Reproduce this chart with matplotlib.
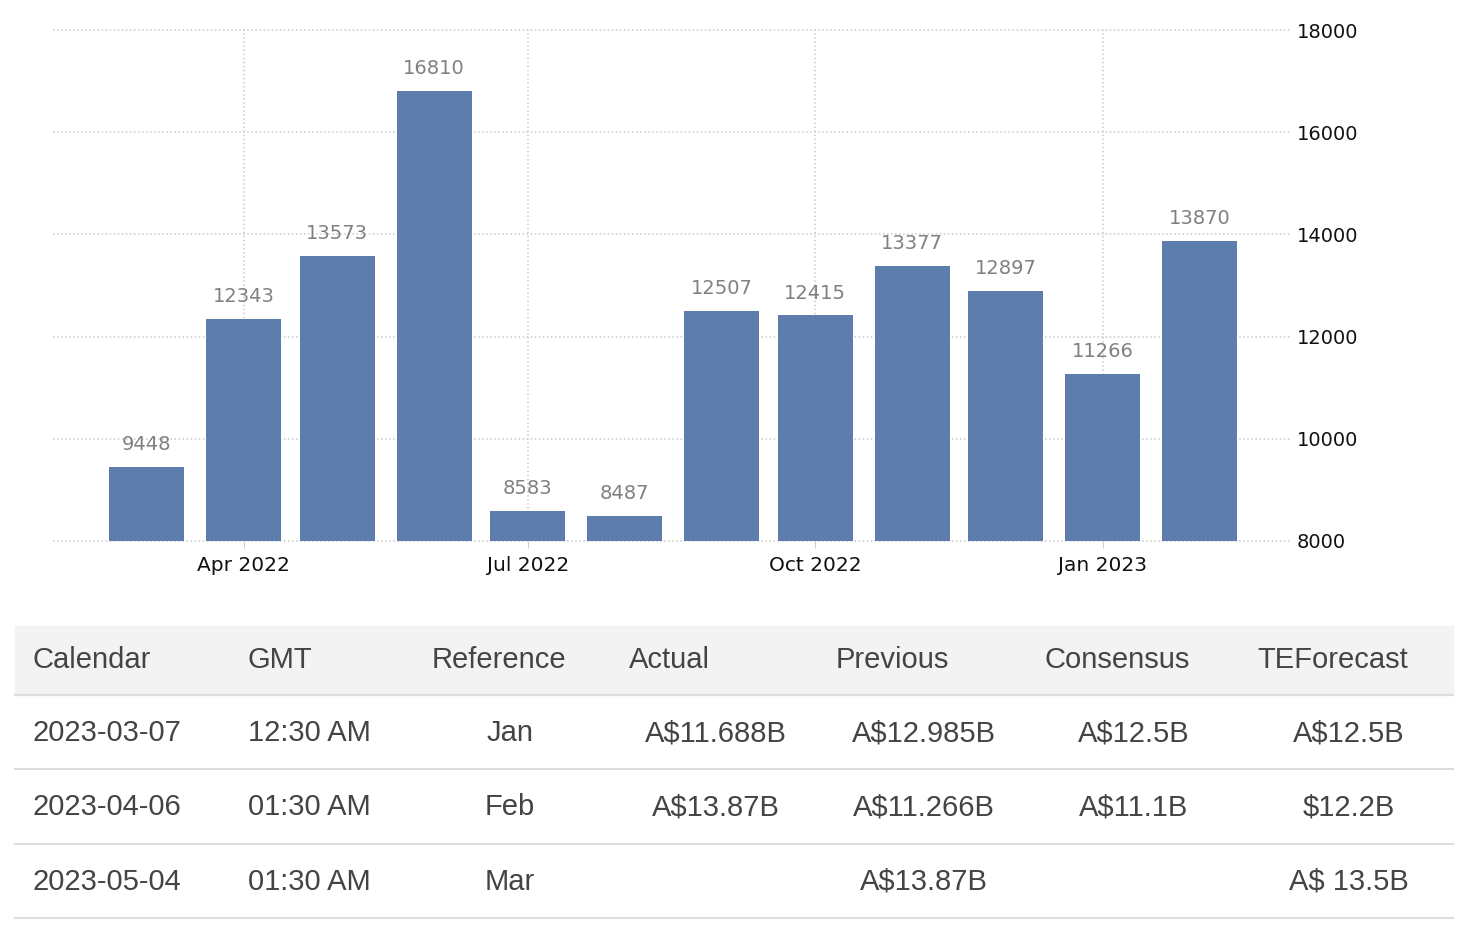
import pandas as pd
import matplotlib.pyplot as plt
from matplotlib.patches import Rectangle
from matplotlib.lines import Line2D

# datos del grafico
meses = pd.date_range("2022-03-01", periods=12, freq="MS")
valores = [9448, 12343, 13573, 16810, 8583, 8487, 12507, 12415, 13377, 12897, 11266, 13870]
ticks_x = ["2022-04-01", "2022-07-01", "2022-10-01", "2023-01-01"]
etiquetas_x = ["Apr 2022", "Jul 2022", "Oct 2022", "Jan 2023"]
ticks_y = [8000, 10000, 12000, 14000, 16000, 18000]

# datos de la tabla
encabezados = ["Calendar", "GMT", "Reference", "Actual", "Previous", "Consensus", "TEForecast"]
calendario = ["2023-03-07", "2023-04-06", "2023-05-04"]
gmt = ["12:30 AM", "01:30 AM", "01:30 AM"]
referencia = ["Jan", "Feb", "Mar"]
actual = ["A$11.688B", "A$13.87B", ""]
previo = ["A$12.985B", "A$11.266B", "A$13.87B"]
consenso = ["A$12.5B", "A$11.1B", ""]
pronostico = ["A$12.5B", "$12.2B", "A$ 13.5B"]

fuente_ejes = ["DejaVu Sans"]
fuente_tabla = ["Liberation Sans", "DejaVu Sans"]

fig = plt.figure(figsize=(14.7, 9.34), dpi=100)
ax = fig.add_axes([53/1470, 1-541/934, (1290-53)/1470, (541-30)/934])

ax.bar(meses, valores, width=24, color="#5d7eac", zorder=3)
for m, v in zip(meses, valores):
    ax.text(m, v + 250, str(v), ha="center", va="bottom", fontsize=14,
            color="#808080", family=fuente_ejes)

ax.set_ylim(8000, 18000)
ax.set_xlim(pd.Timestamp("2022-01-30"), pd.Timestamp("2023-03-02"))
ax.set_yticks(ticks_y)
ax.set_xticks(pd.to_datetime(ticks_x))
ax.set_xticklabels(etiquetas_x, family=fuente_ejes, fontsize=14.5, color="#111111")
ax.yaxis.tick_right()
ax.set_yticklabels([str(t) for t in ticks_y], family=fuente_ejes, fontsize=14, color="#111111")
ax.tick_params(axis="y", length=0, pad=5)
ax.tick_params(axis="x", length=5, color="#cccccc", pad=6)
ax.grid(True, color="#c8c8c8", linestyle=":", linewidth=1.1, zorder=0)
for g in ax.get_ygridlines():
    g.set_clip_on(False)
for s in ax.spines.values():
    s.set_visible(False)

# tabla
fig.patches.append(Rectangle((15/1470, 1-695/934), (1453-15)/1470, 69/934,
                             transform=fig.transFigure, color="#f3f3f3", zorder=0))
for yy in [695, 769, 844, 918]:
    fig.lines.append(Line2D([15/1470, 1453/1470], [1-yy/934, 1-yy/934],
                            transform=fig.transFigure, color="#dddddd", linewidth=1.5))

x_enc = [32, 248, 432, 629, 836, 1045, 1257]
for x, t in zip(x_enc, encabezados):
    fig.text(x/1470, 1-660/934, t, ha="left", va="center", fontsize=21,
             color="#444444", family=fuente_tabla)

y_filas = [733, 807, 882]
for i, yy in enumerate(y_filas):
    y = 1 - yy/934
    fig.text(32/1470, y, calendario[i], ha="left", va="center", fontsize=21, color="#444444", family=fuente_tabla)
    fig.text(248/1470, y, gmt[i], ha="left", va="center", fontsize=21, color="#444444", family=fuente_tabla)
    fig.text(510/1470, y, referencia[i], ha="center", va="center", fontsize=21, color="#444444", family=fuente_tabla)
    fig.text(716/1470, y, actual[i], ha="center", va="center", fontsize=21, color="#444444", family=fuente_tabla)
    fig.text(924/1470, y, previo[i], ha="center", va="center", fontsize=21, color="#444444", family=fuente_tabla)
    fig.text(1134/1470, y, consenso[i], ha="center", va="center", fontsize=21, color="#444444", family=fuente_tabla)
    fig.text(1349/1470, y, pronostico[i], ha="center", va="center", fontsize=21, color="#444444", family=fuente_tabla)

plt.savefig("out.png", dpi=100)
